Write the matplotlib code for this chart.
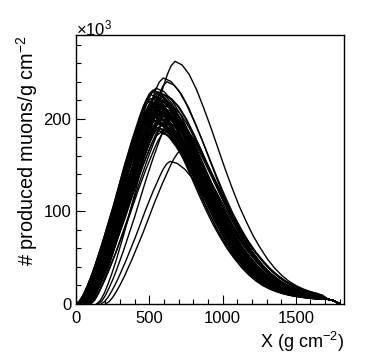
import numpy as np
import matplotlib
matplotlib.use('Agg')
import matplotlib.pyplot as plt
from matplotlib.ticker import MultipleLocator

plt.rcParams['font.family'] = ['Liberation Sans', 'DejaVu Sans']
plt.rcParams['mathtext.fontset'] = 'custom'
plt.rcParams['mathtext.rm'] = 'Liberation Sans'
plt.rcParams['mathtext.it'] = 'Liberation Sans:italic'

# Common profile shape.
# Rising side: position between first interaction and maximum (0..1) vs fraction of maximum
RISE_U = [0.0, 0.05, 0.1, 0.15, 0.2, 0.25, 0.3, 0.35, 0.4, 0.45, 0.5,
          0.55, 0.6, 0.65, 0.7, 0.75, 0.8, 0.85, 0.9, 0.95, 1.0]
RISE_F = [0.0, 0.015, 0.045, 0.085, 0.13, 0.18, 0.235, 0.29, 0.35, 0.41, 0.47,
          0.535, 0.60, 0.665, 0.725, 0.785, 0.84, 0.895, 0.945, 0.982, 1.0]
# Falling side: depth after the maximum (g cm^-2) vs fraction of maximum
FALL_DX = [50, 100, 150, 200, 250, 300, 350, 400, 450, 500, 550, 600, 650,
           700, 750, 800, 850, 900, 950, 1000, 1050, 1100, 1150, 1200, 1250, 1300]
FALL_F = [0.985, 0.945, 0.885, 0.81, 0.73, 0.645, 0.56, 0.48, 0.405, 0.34, 0.28, 0.23, 0.185,
          0.148, 0.118, 0.094, 0.076, 0.062, 0.051, 0.043, 0.037, 0.032, 0.028, 0.025, 0.022, 0.02]

# Per shower: depth of maximum, maximum (x10^3 / g cm^-2), start depth, falling width factor
XMAX = [676, 595, 620, 545, 525, 560, 580, 510, 600, 535, 555, 570, 500, 590, 615, 540,
        520, 565, 585, 495, 550, 605, 530, 575, 515, 560, 590, 545, 625, 505, 570, 535,
        555, 600, 580, 520, 565, 545, 610, 575, 642, 720, 650, 585, 530, 555,
        510, 540, 575, 495, 530, 560, 590, 520, 550, 580, 505, 565, 545, 600, 525]
NMAX = [262, 244, 240, 233, 231, 229, 227, 226, 225, 223, 221, 220, 219, 218, 216, 215,
        214, 213, 212, 211, 210, 209, 208, 207, 206, 205, 203, 202, 201, 200, 199, 198,
        196, 195, 193, 192, 190, 188, 186, 185, 154, 166, 200, 215, 218, 226,
        222, 217, 211, 204, 197, 194, 200, 216, 224, 219, 213, 208, 191, 203, 229]
X0 = [140, 60, 100, 20, 10, 30, 40, 0, 60, 15, 25, 35, 0, 50, 80, 20,
      10, 40, 45, 0, 25, 70, 15, 40, 5, 30, 55, 20, 90, 0, 35, 10,
      30, 65, 45, 10, 40, 25, 85, 50, 170, 200, 150, 45, 15, 25,
      10, 30, 40, 0, 20, 50, 60, 15, 25, 45, 5, 35, 40, 70, 10]
FALL_W = [0.97, 1.05, 0.98, 1.08, 1.02, 0.95, 1.10, 0.96, 1.04, 1.12, 0.93, 1.06, 1.00, 0.97, 1.03, 1.09,
          0.94, 1.01, 1.07, 0.98, 1.11, 0.95, 1.04, 0.99, 1.08, 0.92, 1.02, 1.06, 0.96, 1.10, 0.97, 1.03,
          1.05, 0.94, 1.00, 1.09, 0.96, 1.07, 0.99, 1.02, 1.00, 0.95, 1.05, 1.12, 0.98, 1.04,
          1.06, 0.93, 1.01, 1.10, 0.97, 1.03, 0.96, 1.08, 0.95, 1.05, 1.02, 0.94, 1.11, 0.99, 1.07]

# Ground level: all profiles stop here
GROUND_X = [1720, 1760, 1800]
GROUND_Y = [5.0, 3.5, 0.0]
X_CUT = 1690

fig = plt.figure(figsize=(3.82, 3.58), dpi=100)
ax = fig.add_axes([0.199, 0.151, 0.702, 0.750])

ru = np.array(RISE_U)
rf = np.array(RISE_F)
fdx = np.array(FALL_DX, dtype=float)
ff = np.array(FALL_F)
for xm, nm, x0, fw in zip(XMAX, NMAX, X0, FALL_W):
    x = np.concatenate([x0 + ru * (xm - x0), xm + fdx * fw])
    y = nm * np.concatenate([rf, ff])
    keep = x <= X_CUT
    x = np.concatenate([x[keep], GROUND_X])
    y = np.concatenate([y[keep], GROUND_Y])
    ax.plot(x, y, color='black', lw=1.0)

ax.set_xlim(0, 1830)
ax.set_ylim(0, 290)
ax.xaxis.set_major_locator(MultipleLocator(500))
ax.xaxis.set_minor_locator(MultipleLocator(100))
ax.yaxis.set_major_locator(MultipleLocator(100))
ax.yaxis.set_minor_locator(MultipleLocator(20))
ax.tick_params(which='both', direction='in', top=False, right=False, labelsize=12)
ax.tick_params(which='major', length=6.5, width=0.8)
ax.tick_params(which='minor', length=3.4, width=0.8)
ax.tick_params(axis='x', pad=5)
for s in ax.spines.values():
    s.set_linewidth(1.0)

ax.set_xlabel(r'X (g cm$^{-2}$)', fontsize=13, ha='right', va='top')
ax.xaxis.set_label_coords(1.0, -0.097)
ax.set_ylabel(r'# produced muons/g cm$^{-2}$', fontsize=14.3, ha='right', va='center')
ax.yaxis.set_label_coords(-0.183, 1.0)
ax.text(0.0, 1.0, r'$\times$10$^{3}$', transform=ax.transAxes, fontsize=12, ha='left', va='baseline')

fig.savefig('out.png', dpi=100)
